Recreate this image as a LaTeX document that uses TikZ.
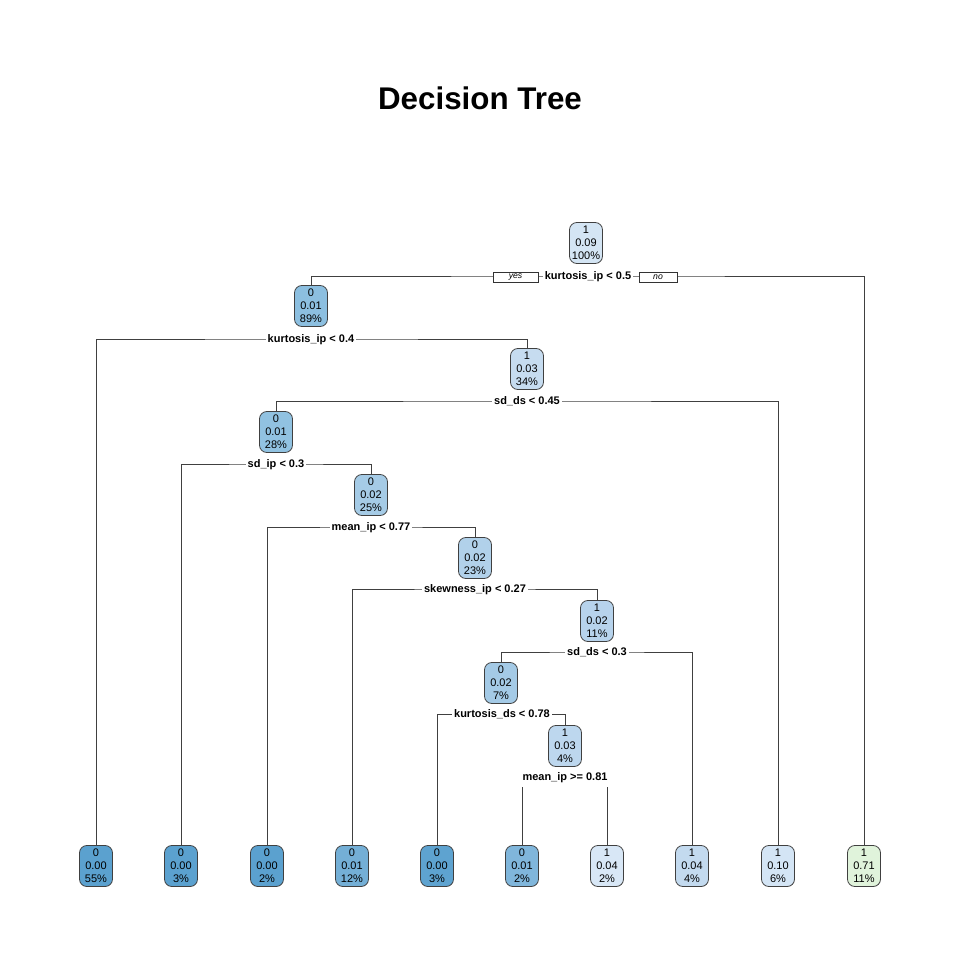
\documentclass[tikz,border=0pt]{standalone}
\usepackage{fontspec}
\setmainfont{Liberation Sans}
\pgfdeclarelayer{bg}
\pgfdeclarelayer{edges}
\pgfsetlayers{bg,edges,main}
\definecolor{cRoot}{HTML}{D4E5F4}
\definecolor{cN2}{HTML}{8CBFE0}
\definecolor{cN3}{HTML}{C6DCF0}
\definecolor{cN4}{HTML}{91C2E1}
\definecolor{cN5}{HTML}{A5CBE6}
\definecolor{cN6}{HTML}{B1D1EA}
\definecolor{cN7}{HTML}{B7D3EC}
\definecolor{cN8}{HTML}{A4CAE6}
\definecolor{cN9}{HTML}{BDD7EE}
\definecolor{cL1}{HTML}{5BA1CF}
\definecolor{cL4}{HTML}{74AFD6}
\definecolor{cL5}{HTML}{5EA3D0}
\definecolor{cL6}{HTML}{80B6DB}
\definecolor{cL7}{HTML}{D8E7F6}
\definecolor{cL8}{HTML}{C3DAEF}
\definecolor{cL9}{HTML}{D4E5F5}
\definecolor{cL10}{HTML}{E0F3DB}
\begin{document}
\begin{tikzpicture}[x=0.75pt,y=-0.75pt,
  tnode/.style={draw=black!75, line width=0.6pt, rounded corners=5.5pt,
    minimum width=24.75pt, minimum height=30.75pt, inner sep=0pt, align=center,
    font=\fontsize{8.25}{9.75}\selectfont},
  splitlbl/.style={fill=white, inner xsep=1.5pt, inner ysep=1.9pt,
    text height=8.5pt, text depth=2.7pt,
    font=\fontsize{8.25}{9.9}\selectfont\bfseries},
  ynbox/.style={draw=black!80, fill=white, line width=0.5pt, minimum height=7.5pt,
    inner sep=0pt, font=\fontsize{6.5}{7}\selectfont\itshape},
  conn/.style={draw=black!75, line width=0.75pt}]
\useasboundingbox (0,0) rectangle (960,960);
\begin{pgfonlayer}{bg}
\fill[white] (0,0) rectangle (960,960);
\end{pgfonlayer}

\node[anchor=base, font=\fontsize{23.5}{28}\selectfont\bfseries] (title) at (480,109) {Decision Tree};

% internal nodes
\node[tnode, fill=cRoot] (root) at (586,243) {1\\0.09\\100\%};
\node[tnode, fill=cN2] (n2) at (311,306) {0\\0.01\\89\%};
\node[tnode, fill=cN3] (n3) at (527,369) {1\\0.03\\34\%};
\node[tnode, fill=cN4] (n4) at (276,432) {0\\0.01\\28\%};
\node[tnode, fill=cN5] (n5) at (371,495) {0\\0.02\\25\%};
\node[tnode, fill=cN6] (n6) at (475,558) {0\\0.02\\23\%};
\node[tnode, fill=cN7] (n7) at (597,621) {1\\0.02\\11\%};
\node[tnode, fill=cN8] (n8) at (501,683) {0\\0.02\\7\%};
\node[tnode, fill=cN9] (n9) at (565,746) {1\\0.03\\4\%};

% leaves
\node[tnode, fill=cL1] (l1) at (96,866) {0\\0.00\\55\%};
\node[tnode, fill=cL1] (l2) at (181,866) {0\\0.00\\3\%};
\node[tnode, fill=cL1] (l3) at (267,866) {0\\0.00\\2\%};
\node[tnode, fill=cL4] (l4) at (352,866) {0\\0.01\\12\%};
\node[tnode, fill=cL5] (l5) at (437,866) {0\\0.00\\3\%};
\node[tnode, fill=cL6] (l6) at (522,866) {0\\0.01\\2\%};
\node[tnode, fill=cL7] (l7) at (607,866) {1\\0.04\\2\%};
\node[tnode, fill=cL8] (l8) at (692,866) {1\\0.04\\4\%};
\node[tnode, fill=cL9] (l9) at (778,866) {1\\0.10\\6\%};
\node[tnode, fill=cL10] (l10) at (864,866) {1\\0.71\\11\%};

% split labels
\node[splitlbl] (s1) at (588,276) {kurtosis\_ip < 0.5};
\node[ynbox, minimum width=33.75pt] (yes) at (515.5,277) {yes};
\node[ynbox, minimum width=28.5pt] (no) at (658,277) {no};
\node[splitlbl] (s2) at (311,339) {kurtosis\_ip < 0.4};
\node[splitlbl] (s3) at (527,401) {sd\_ds < 0.45};
\node[splitlbl] (s4) at (276,464) {sd\_ip < 0.3};
\node[splitlbl] (s5) at (371,527) {mean\_ip < 0.77};
\node[splitlbl] (s6) at (475,589) {skewness\_ip < 0.27};
\node[splitlbl] (s7) at (597,652) {sd\_ds < 0.3};
\node[splitlbl] (s8) at (502,714) {kurtosis\_ds < 0.78};
\node[splitlbl] (s9) at (565,777) {mean\_ip >= 0.81};

\begin{pgfonlayer}{edges}
\draw[conn] (n2.north) |- (s1.center) -| (l10.north);
\draw[conn] (l1.north) |- (s2.center) -| (n3.north);
\draw[conn] (n4.north) |- (s3.center) -| (l9.north);
\draw[conn] (l2.north) |- (s4.center) -| (n5.north);
\draw[conn] (l3.north) |- (s5.center) -| (n6.north);
\draw[conn] (l4.north) |- (s6.center) -| (n7.north);
\draw[conn] (n8.north) |- (s7.center) -| (l8.north);
\draw[conn] (l5.north) |- (s8.center) -| (n9.north);
\draw[conn] (l6.north) |- (s9.center) -| (l7.north);
\end{pgfonlayer}
\end{tikzpicture}
\end{document}
